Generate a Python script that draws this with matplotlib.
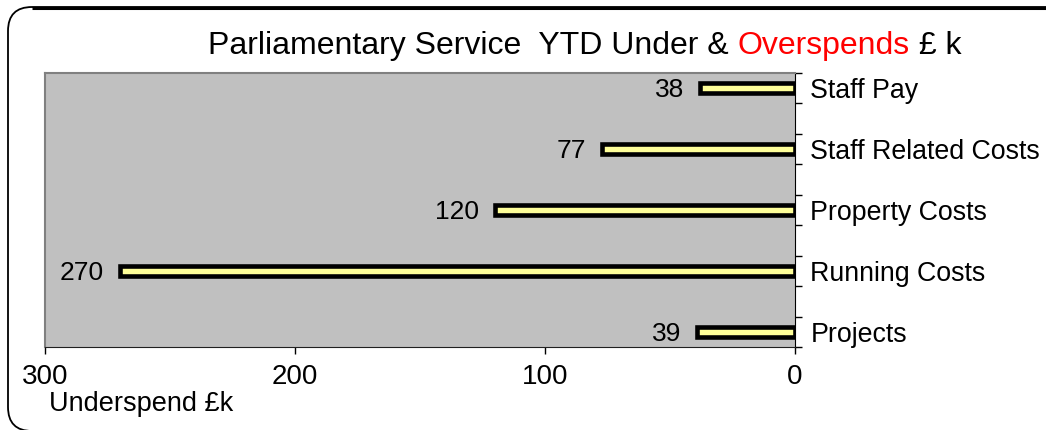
import matplotlib
matplotlib.use("Agg")
import matplotlib.pyplot as plt
from matplotlib.patches import FancyBboxPatch
import numpy as np

plt.rcParams['font.family'] = ['Liberation Sans', 'DejaVu Sans']

# data
categories = ["Staff Pay", "Staff Related Costs", "Property Costs", "Running Costs", "Projects"]
underspend = [38, 77, 120, 270, 39]
x_ticks = [300, 200, 100, 0]

W, H = 1046, 430
fig = plt.figure(figsize=(W / 100, H / 100), dpi=100)

# background axes in pixel coords for the rounded frame
bg = fig.add_axes([0, 0, 1, 1])
bg.set_xlim(0, W)
bg.set_ylim(H, 0)
bg.axis("off")
bg.add_patch(FancyBboxPatch((8, 7), 1080 - 8, 431 - 7,
                            boxstyle="round,pad=0,rounding_size=24",
                            fill=False, ec="black", lw=1.3))
bg.plot([32, W], [7.5, 7.5], color="black", lw=2.2, solid_capstyle="butt")

ax = fig.add_axes([45 / W, 1 - 347 / H, (795 - 45) / W, (347 - 73) / H])
ax.set_facecolor("#C0C0C0")

ypos = np.arange(len(categories))
ax.barh(ypos, underspend, height=0.172, color="#FFFF99", edgecolor="black", lw=3.3)

for y, v in zip(ypos, underspend):
    ax.annotate(str(v), (v, y), xytext=(-16, -9), textcoords="offset pixels",
                ha="right", va="baseline", fontsize=19)

ax.set_xticks(x_ticks)
ax.set_xticklabels([str(t) for t in x_ticks], fontsize=20)
ax.tick_params(axis="x", direction="out", length=5, width=1, pad=7)

ax.yaxis.tick_right()
ax.set_yticks(ypos)
ax.set_yticklabels(categories, fontsize=19.3)
ax.set_yticks(np.arange(-0.25, len(categories) - 0.5, 0.5), minor=True)
ax.tick_params(axis="y", which="major", length=0, pad=11)
ax.tick_params(axis="y", which="minor", direction="out", length=5, width=1)

ax.set_xlim(300, 0)
ax.set_ylim(len(categories) - 0.75, -0.25)

for s in ["left", "top"]:
    ax.spines[s].set_color("#808080")
    ax.spines[s].set_linewidth(1.5)
ax.spines["bottom"].set_color("#202020")
ax.spines["right"].set_color("black")

fig.text(49 / W, 1 - 404 / H, "Underspend £k", fontsize=19.5, va="center", ha="left")

# title with the red word
pieces = [("Parliamentary Service  YTD Under & ", "black"), ("Overspends", "red"), (" £ k", "black")]
renderer = fig.canvas.get_renderer()
texts = []
for s, c in pieces:
    t = fig.text(0, 1 - 46 / H, s, color=c, fontsize=23, va="center", ha="left")
    texts.append(t)
widths = [t.get_window_extent(renderer).width for t in texts]
x = 585 - sum(widths) / 2
for t, w in zip(texts, widths):
    t.set_x(x / W)
    x += w

fig.savefig("out.png", dpi=100)
